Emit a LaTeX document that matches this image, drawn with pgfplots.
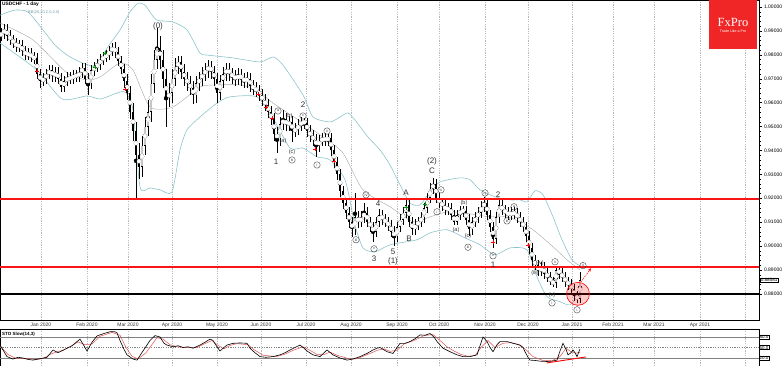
\documentclass[border=0pt]{standalone}
\usepackage{pgfplots}
\pgfplotsset{compat=1.18}
\usepackage{pgfplotstable}
\usepackage{fontspec}
\setmainfont{Liberation Sans}
\newfontfamily\seriffont{Liberation Serif}
\usetikzlibrary{arrows.meta}
\definecolor{bbteal}{RGB}{140,196,202}
\definecolor{fxred}{RGB}{240,38,38}
\definecolor{lvred}{RGB}{250,20,20}
\definecolor{lbl}{RGB}{50,50,50}
\definecolor{stored}{RGB}{225,80,80}
\pgfplotstableread{
x o h l c
1 0.9880 0.9912 0.9858 0.9890
4 0.9890 0.9927 0.9868 0.9905
7 0.9905 0.9927 0.9858 0.9880
10 0.9880 0.9902 0.9840 0.9862
13 0.9862 0.9884 0.9828 0.9850
16 0.9850 0.9872 0.9813 0.9835
19 0.9835 0.9862 0.9813 0.9840
22 0.9840 0.9862 0.9793 0.9815
25 0.9815 0.9837 0.9778 0.9800
28 0.9800 0.9827 0.9778 0.9805
31 0.9805 0.9827 0.9768 0.9790
34 0.9790 0.9812 0.9763 0.9785
37 0.9785 0.9807 0.9698 0.9720
40 0.9720 0.9742 0.9660 0.9690
43 0.9690 0.9722 0.9668 0.9700
46 0.9700 0.9742 0.9678 0.9720
49 0.9720 0.9757 0.9698 0.9735
52 0.9735 0.9757 0.9688 0.9710
55 0.9710 0.9747 0.9688 0.9725
58 0.9725 0.9747 0.9678 0.9700
61 0.9700 0.9722 0.9645 0.9665
64 0.9665 0.9712 0.9643 0.9690
67 0.9690 0.9727 0.9668 0.9705
70 0.9705 0.9727 0.9678 0.9700
73 0.9700 0.9737 0.9678 0.9715
76 0.9715 0.9737 0.9688 0.9710
79 0.9710 0.9747 0.9688 0.9725
82 0.9725 0.9767 0.9703 0.9745
85 0.9745 0.9767 0.9678 0.9700
88 0.9700 0.9722 0.9632 0.9680
91 0.9680 0.9757 0.9658 0.9735
94 0.9735 0.9772 0.9713 0.9750
97 0.9750 0.9782 0.9728 0.9760
100 0.9760 0.9802 0.9738 0.9780
103 0.9780 0.9812 0.9758 0.9790
106 0.9790 0.9822 0.9768 0.9800
109 0.9800 0.9837 0.9778 0.9815
112 0.9815 0.9849 0.9793 0.9830
115 0.9830 0.9852 0.9788 0.9810
118 0.9810 0.9832 0.9753 0.9775
121 0.9775 0.9797 0.9718 0.9740
124 0.9740 0.9762 0.9660 0.9690
127 0.9690 0.9720 0.9610 0.9640
130 0.9640 0.9670 0.9530 0.9560
133 0.9560 0.9600 0.9440 0.9480
136 0.9480 0.9520 0.9193 0.9380
139 0.9380 0.9430 0.9280 0.9330
142 0.9330 0.9460 0.9290 0.9420
145 0.9420 0.9540 0.9380 0.9500
148 0.9500 0.9610 0.9460 0.9560
151 0.9560 0.9720 0.9520 0.9680
154 0.9680 0.9820 0.9640 0.9780
157 0.9780 0.9912 0.9740 0.9830
160 0.9830 0.9880 0.9740 0.9780
163 0.9780 0.9820 0.9660 0.9700
166 0.9700 0.9740 0.9497 0.9620
169 0.9620 0.9680 0.9580 0.9640
172 0.9640 0.9740 0.9600 0.9700
175 0.9700 0.9785 0.9670 0.9750
178 0.9750 0.9795 0.9720 0.9770
181 0.9770 0.9795 0.9700 0.9730
184 0.9730 0.9760 0.9670 0.9700
187 0.9700 0.9730 0.9650 0.9680
190 0.9680 0.9710 0.9630 0.9660
193 0.9660 0.9690 0.9594 0.9630
196 0.9630 0.9710 0.9600 0.9680
199 0.9680 0.9730 0.9650 0.9700
202 0.9700 0.9750 0.9670 0.9720
205 0.9720 0.9765 0.9690 0.9735
208 0.9735 0.9780 0.9705 0.9750
211 0.9750 0.9775 0.9700 0.9730
214 0.9730 0.9755 0.9670 0.9700
217 0.9700 0.9725 0.9598 0.9640
220 0.9640 0.9715 0.9610 0.9690
223 0.9690 0.9750 0.9660 0.9720
226 0.9720 0.9765 0.9690 0.9740
229 0.9740 0.9765 0.9690 0.9720
232 0.9720 0.9745 0.9680 0.9710
235 0.9710 0.9735 0.9670 0.9700
238 0.9700 0.9745 0.9675 0.9715
241 0.9715 0.9740 0.9670 0.9700
244 0.9700 0.9725 0.9660 0.9690
247 0.9690 0.9730 0.9662 0.9700
250 0.9700 0.9725 0.9645 0.9670
253 0.9670 0.9695 0.9630 0.9660
256 0.9660 0.9685 0.9622 0.9650
259 0.9650 0.9675 0.9605 0.9630
262 0.9630 0.9655 0.9585 0.9610
265 0.9610 0.9635 0.9565 0.9590
268 0.9590 0.9615 0.9535 0.9560
271 0.9560 0.9585 0.9505 0.9530
274 0.9530 0.9555 0.9440 0.9470
277 0.9470 0.9500 0.9389 0.9450
280 0.9450 0.9540 0.9420 0.9510
283 0.9510 0.9569 0.9485 0.9530
286 0.9530 0.9555 0.9480 0.9505
289 0.9505 0.9545 0.9480 0.9520
292 0.9520 0.9545 0.9435 0.9480
295 0.9480 0.9515 0.9455 0.9490
298 0.9490 0.9530 0.9465 0.9505
301 0.9505 0.9540 0.9480 0.9520
304 0.9520 0.9535 0.9490 0.9515
307 0.9515 0.9535 0.9455 0.9480
310 0.9480 0.9505 0.9435 0.9460
313 0.9460 0.9485 0.9420 0.9445
316 0.9445 0.9470 0.9373 0.9420
319 0.9420 0.9465 0.9395 0.9440
322 0.9440 0.9472 0.9418 0.9450
325 0.9450 0.9472 0.9420 0.9445
328 0.9445 0.9470 0.9420 0.9450
331 0.9450 0.9472 0.9375 0.9400
334 0.9400 0.9422 0.9325 0.9350
337 0.9350 0.9372 0.9275 0.9300
340 0.9300 0.9322 0.9205 0.9230
343 0.9230 0.9252 0.9155 0.9180
346 0.9180 0.9202 0.9115 0.9140
349 0.9140 0.9162 0.9075 0.9100
352 0.9100 0.9122 0.9038 0.9070
355 0.9070 0.9222 0.9048 0.9120
358 0.9120 0.9145 0.9075 0.9100
361 0.9100 0.9145 0.9078 0.9120
364 0.9120 0.9180 0.9098 0.9140
367 0.9140 0.9162 0.9078 0.9100
370 0.9100 0.9122 0.9058 0.9080
373 0.9080 0.9102 0.9017 0.9060
376 0.9060 0.9122 0.9038 0.9100
379 0.9100 0.9155 0.9078 0.9130
382 0.9130 0.9152 0.9088 0.9110
385 0.9110 0.9132 0.9078 0.9100
388 0.9100 0.9122 0.9063 0.9085
391 0.9085 0.9107 0.9038 0.9060
394 0.9060 0.9082 0.9000 0.9040
397 0.9040 0.9102 0.9018 0.9080
400 0.9080 0.9132 0.9058 0.9110
403 0.9110 0.9162 0.9088 0.9140
406 0.9140 0.9193 0.9118 0.9170
409 0.9170 0.9192 0.9078 0.9100
412 0.9100 0.9122 0.9047 0.9070
415 0.9070 0.9112 0.9048 0.9090
418 0.9090 0.9122 0.9068 0.9100
421 0.9100 0.9142 0.9078 0.9120
424 0.9120 0.9182 0.9098 0.9160
427 0.9160 0.9222 0.9138 0.9200
430 0.9200 0.9262 0.9178 0.9240
433 0.9240 0.9285 0.9218 0.9260
436 0.9260 0.9282 0.9178 0.9200
439 0.9200 0.9222 0.9158 0.9180
442 0.9180 0.9202 0.9148 0.9170
445 0.9170 0.9192 0.9128 0.9150
448 0.9150 0.9182 0.9128 0.9160
451 0.9160 0.9182 0.9108 0.9130
454 0.9130 0.9152 0.9088 0.9100
457 0.9100 0.9152 0.9088 0.9130
460 0.9130 0.9168 0.9108 0.9150
463 0.9150 0.9168 0.9123 0.9145
466 0.9145 0.9167 0.9088 0.9110
469 0.9110 0.9132 0.9042 0.9070
472 0.9070 0.9122 0.9048 0.9100
475 0.9100 0.9142 0.9078 0.9120
478 0.9120 0.9162 0.9098 0.9140
481 0.9140 0.9187 0.9118 0.9165
484 0.9165 0.9205 0.9143 0.9180
487 0.9180 0.9202 0.9108 0.9130
490 0.9130 0.9152 0.9058 0.9080
493 0.9080 0.9102 0.8990 0.9030
496 0.9030 0.9142 0.9008 0.9120
499 0.9120 0.9193 0.9098 0.9170
502 0.9170 0.9192 0.9128 0.9150
505 0.9150 0.9172 0.9118 0.9140
508 0.9140 0.9162 0.9108 0.9130
511 0.9130 0.9162 0.9108 0.9140
514 0.9140 0.9162 0.9113 0.9135
517 0.9135 0.9157 0.9098 0.9120
520 0.9120 0.9142 0.9078 0.9100
523 0.9100 0.9122 0.9058 0.9080
526 0.9080 0.9102 0.9018 0.9040
529 0.9040 0.9062 0.8968 0.8990
532 0.8990 0.9012 0.8918 0.8940
535 0.8940 0.8962 0.8898 0.8920
538 0.8920 0.8942 0.8873 0.8895
541 0.8895 0.8932 0.8873 0.8910
544 0.8910 0.8932 0.8863 0.8885
547 0.8885 0.8907 0.8848 0.8870
550 0.8870 0.8892 0.8835 0.8850
553 0.8850 0.8872 0.8829 0.8845
556 0.8845 0.8913 0.8823 0.8900
559 0.8900 0.8913 0.8863 0.8885
562 0.8885 0.8907 0.8848 0.8870
565 0.8870 0.8892 0.8828 0.8850
568 0.8850 0.8872 0.8818 0.8840
571 0.8840 0.8862 0.8798 0.8820
574 0.8820 0.8842 0.8768 0.8790
577 0.8790 0.8812 0.8762 0.8780
580 0.8780 0.8892 0.8760 0.8858
}\candles
\tikzset{
 big/.style={font=\fontsize{8}{8}\selectfont, text=lbl, inner sep=0pt},
 sm/.style={font=\fontsize{5.5}{5.5}\selectfont, text=lbl, inner sep=0pt},
 cir/.style={circle, draw=lbl, line width=0.35pt, inner sep=0pt, minimum size=6.5pt, font=\fontsize{3.6}{3.6}\selectfont, text=lbl},
}
\begin{document}
\begin{tikzpicture}[x=1pt,y=1pt]
\useasboundingbox (0pt,0pt) rectangle (782pt,-366pt);
\begin{axis}[at={(0pt,0pt)}, anchor=north west, width=759pt, height=320pt, scale only axis,
  xmin=0, xmax=759, ymin=0.86904, ymax=1.00293, clip mode=individual,
  axis line style={black, line width=0.5pt},
  xtick={41,87,128,172,217,261,306,351,397,439,485,528,572,613,654,700,745},
  xticklabels={Jan 2020,Feb 2020,Mar 2020,Apr 2020,May 2020,Jun 2020,Jul 2020,Aug 2020,Sep 2020,Oct 2020,Nov 2020,Dec 2020,Jan 2021,Feb 2021,Mar 2021,Apr 2021,{}},
  xtick style={draw=none},
  xticklabel style={font=\fontsize{5}{5}\selectfont, anchor=center, yshift=-2pt, text=black!80},
  xmajorgrids, grid style={gray!55, dash pattern=on 1.2pt off 1.2pt, line width=0.35pt},
  ytick={0.88,0.89,0.90,0.91,0.92,0.93,0.94,0.95,0.96,0.97,0.98,0.99,1.00},
  minor y tick num=4, tick align=outside, major tick length=3pt, minor tick length=1.5pt,
  ytick pos=right, yticklabel pos=right, scaled y ticks=false,
  ytick style={black, line width=0.3pt},
  yticklabel style={font=\fontsize{5}{5}\selectfont, xshift=-1.5pt, /pgf/number format/.cd, fixed, fixed zerofill, precision=5, assume math mode=true},
]
% Bollinger bands
\addplot[bbteal, line width=0.6pt, smooth, tension=0.4] coordinates {(0,0.9966)(15,0.9987)(28,0.9979)(43,0.9904)(55,0.9841)(67,0.9799)(80,0.9770)(93,0.9753)(100,0.9778)(107,0.9828)(120,0.9904)(130,0.9979)(138,1.0016)(145,1.0008)(150,0.9979)(157,0.9945)(173,0.9937)(187,0.9904)(200,0.9807)(207,0.9799)(233,0.9787)(260,0.9770)(273,0.9791)(283,0.9757)(303,0.9632)(313,0.9540)(330,0.9519)(340,0.9540)(348,0.9557)(355,0.9527)(368,0.9456)(380,0.9402)(390,0.9339)(400,0.9256)(410,0.9180)(420,0.9172)(430,0.9226)(440,0.9268)(460,0.9285)(470,0.9277)(480,0.9235)(495,0.9206)(510,0.9193)(520,0.9193)(527,0.9185)(535,0.9231)(543,0.9214)(553,0.9122)(562,0.9026)(572,0.8942)(580,0.8917)(586,0.8909)};
\addplot[gray!70, line width=0.4pt, smooth, tension=0.4] coordinates {(0,0.9933)(33,0.9862)(67,0.9724)(87,0.9695)(100,0.9707)(120,0.9766)(133,0.9736)(150,0.9582)(173,0.9582)(200,0.9665)(217,0.9674)(240,0.9674)(257,0.9653)(273,0.9598)(303,0.9515)(323,0.9456)(343,0.9389)(363,0.9235)(390,0.9164)(413,0.9101)(430,0.9122)(447,0.9143)(463,0.9139)(490,0.9122)(507,0.9122)(520,0.9101)(533,0.9068)(553,0.8997)(567,0.8942)(580,0.8900)};
\addplot[bbteal, line width=0.6pt, smooth, tension=0.4] coordinates {(0,0.9849)(10,0.9820)(37,0.9736)(62,0.9615)(87,0.9628)(100,0.9615)(117,0.9640)(125,0.9644)(133,0.9569)(140,0.9247)(150,0.9243)(160,0.9235)(172,0.9226)(180,0.9402)(187,0.9486)(200,0.9540)(217,0.9598)(230,0.9624)(257,0.9624)(273,0.9536)(290,0.9410)(303,0.9410)(317,0.9373)(330,0.9360)(345,0.9277)(355,0.9088)(363,0.8992)(375,0.8976)(390,0.9005)(417,0.9026)(430,0.9055)(447,0.9068)(465,0.9034)(480,0.9005)(495,0.8963)(510,0.8992)(527,0.8984)(537,0.8871)(547,0.8788)(560,0.8767)(570,0.8754)(580,0.8804)};
% candles: wicks
\addplot[only marks, mark=none, black, forget plot,
  error bars/.cd, y dir=both, y explicit, error mark=none,
  error bar style={line width=0.5pt, black}]
  table[x=x, y expr={(\thisrow{h}+\thisrow{l})/2}, y error expr={(\thisrow{h}-\thisrow{l})/2}] {\candles};
% bodies
\addplot[only marks, mark=none, black, forget plot,
  error bars/.cd, y dir=both, y explicit, error mark=none,
  error bar style={line width=2.4pt, black}]
  table[x=x, y expr={(\thisrow{o}+\thisrow{c})/2}, y error expr={max(abs(\thisrow{o}-\thisrow{c})/2,0.00015)}] {\candles};
% bull body interior
\addplot[only marks, mark=none, white, forget plot,
  error bars/.cd, y dir=both, y explicit, error mark=none,
  error bar style={line width=1.1pt, gray!45}]
  table[x=x, y expr={(\thisrow{o}+\thisrow{c})/2}, y error expr={max((\thisrow{c}-\thisrow{o})/2-0.0003,0)}] {\candles};
% signal markers
\addplot[only marks, mark=+, mark size=1.8pt, red, line width=0.6pt] coordinates {(37,0.9732)(125,0.9657)(258,0.9636)(266,0.9582)(272,0.9535)(315,0.9406)(334,0.9356)(493,0.9017)(528,0.9005)};
\addplot[only marks, mark=+, mark size=1.8pt, green!60!black, line width=0.6pt] coordinates {(95,0.9749)(105,0.9807)(406,0.9160)(425,0.9176)};
% levels
\addplot[lvred, line width=1.5pt] coordinates {(0,0.9196)(759,0.9196)};
\addplot[lvred, line width=1.5pt] coordinates {(0,0.8912)(759,0.8912)};
\addplot[black, line width=1.5pt] coordinates {(0,0.8800)(759,0.8800)};
% circle and arrow
\draw[red, line width=0.6pt, fill=red, fill opacity=0.2] (axis cs:578,0.8800) circle[radius=11.5pt];
\draw[red, line width=0.6pt, dash pattern=on 1pt off 1pt, -{Stealth[length=3.5pt,width=3pt]}] (axis cs:581,0.8850) -- (axis cs:591,0.8907);
% wave labels
\node[big] at (axis cs:158,0.9920) {(0)};
\node[big] at (axis cs:303,0.9590) {2};
\node[big] at (axis cs:276,0.9352) {1};
\node[big] at (axis cs:378,0.9176) {4};
\node[big] at (axis cs:374,0.8946) {3};
\node[big] at (axis cs:393,0.8976) {5};
\node[big] at (axis cs:393,0.8934) {(1)};
\node[big] at (axis cs:406,0.9222) {A};
\node[big] at (axis cs:409,0.9030) {B};
\node[big] at (axis cs:432,0.9352) {(2)};
\node[big] at (axis cs:432,0.9314) {C};
\node[big] at (axis cs:498,0.9214) {2};
\node[big] at (axis cs:493,0.8921) {1};
\node[sm] at (axis cs:289,0.9544) {(b)};
\node[sm] at (axis cs:283,0.9440) {(a)};
\node[sm] at (axis cs:292,0.9394) {(c)};
\node[sm] at (axis cs:456,0.9068) {(a)};
\node[sm] at (axis cs:464,0.9180) {(b)};
\node[sm] at (axis cs:468,0.9040) {(c)};
\node[sm] at (axis cs:540,0.8930) {(iv)};
\node[sm] at (axis cs:535,0.8888) {(iii)};
\node[sm] at (axis cs:552,0.8796) {(v)};
\node[cir] at (axis cs:278,0.9565) {a};
\node[cir] at (axis cs:303,0.9544) {c};
\node[cir] at (axis cs:292,0.9360) {b};
\node[cir] at (axis cs:327,0.9481) {ii};
\node[cir] at (axis cs:317,0.9339) {i};
\node[cir] at (axis cs:366,0.9214) {iv};
\node[cir] at (axis cs:356,0.9026) {iii};
\node[cir] at (axis cs:374,0.8988) {v};
\node[cir] at (axis cs:441,0.9235) {ii};
\node[cir] at (axis cs:437,0.9143) {i};
\node[cir] at (axis cs:468,0.8995) {iii};
\node[cir] at (axis cs:485,0.9222) {iv};
\node[cir] at (axis cs:493,0.8959) {v};
\node[cir] at (axis cs:514,0.9164) {a};
\node[cir] at (axis cs:507,0.9105) {b};
\node[cir] at (axis cs:555,0.8934) {ii};
\node[cir] at (axis cs:583,0.8918) {ii};
\node[cir] at (axis cs:552,0.8762) {i};
\node[cir] at (axis cs:577,0.8733) {i};
% top-left texts
\node[anchor=north west, font=\bfseries\fontsize{4.8}{5}\selectfont, inner sep=0pt] at (rel axis cs:0,1) [xshift=2pt, yshift=-2pt] {USDCHF - 1 day};
\node[anchor=north west, font=\fontsize{4}{4}\selectfont, text=bbteal!80!black, inner sep=0pt] at (rel axis cs:0,1) [xshift=28pt, yshift=-10pt] {BB(20,20,2.0,2.0)};
% current price
\node[draw=black, fill=white, inner sep=0.6pt, line width=0.3pt, anchor=west, font=\fontsize{4.6}{4.6}\selectfont] at (axis cs:759,0.88581) [xshift=1pt] {0.88581};
\end{axis}
% sub panel
\begin{axis}[at={(0pt,-329pt)}, anchor=north west, width=759pt, height=37pt, scale only axis,
  xmin=0, xmax=759, ymin=-2.86, ymax=102.86, clip mode=individual,
  axis line style={black, line width=0.5pt},
  xtick={41,87,128,172,217,261,306,351,397,439,485,528,572,613,654,700,745},
  xticklabels={}, xtick style={draw=none},
  xmajorgrids, grid style={gray!55, dash pattern=on 1.2pt off 1.2pt, line width=0.35pt},
  ytick={20,50,80}, ytick style={draw=none}, yticklabel pos=right,
  yticklabel style={font=\fontsize{4.5}{4.5}\selectfont, draw=black, fill=white, inner sep=0.5pt, line width=0.3pt, /pgf/number format/.cd, fixed, fixed zerofill, precision=1, assume math mode=true},
]
\addplot[gray, line width=0.5pt] coordinates {(0,80)(759,80)};
\addplot[gray, line width=0.4pt, dash pattern=on 1.2pt off 1.2pt] coordinates {(0,50)(759,50)};
\addplot[gray, line width=0.5pt] coordinates {(0,20)(759,20)};
\addplot[stored, line width=0.5pt] coordinates {(0,55)(8,30)(15,20)(25,19)(35,16)(43,18)(50,30)(57,38)(63,42)(70,52)(78,66)(85,58)(92,60)(100,82)(112,93)(120,85)(126,50)(132,25)(138,17)(146,35)(157,78)(163,74)(170,58)(177,52)(187,50)(197,50)(204,60)(212,70)(217,58)(224,46)(230,56)(237,61)(248,58)(254,44)(263,28)(276,24)(284,30)(294,43)(303,52)(310,42)(317,30)(324,30)(330,37)(337,28)(350,17)(357,18)(364,26)(371,34)(377,42)(384,46)(390,39)(397,42)(404,60)(414,70)(424,84)(433,87)(440,70)(447,52)(454,40)(461,30)(468,25)(475,27)(481,50)(488,70)(495,50)(503,62)(511,64)(518,59)(525,46)(533,24)(543,13)(552,12)(560,24)(566,48)(571,38)(576,34)(580,36)};
\addplot[black, line width=0.6pt] coordinates {(0,57)(7,24)(13,17)(18,22)(23,20)(28,16)(33,14)(40,18)(47,22)(53,43)(58,35)(63,42)(67,48)(72,55)(75,62)(80,74)(84,55)(87,40)(92,65)(97,83)(104,90)(110,95)(115,95)(117,92)(120,70)(124,45)(127,29)(133,17)(137,14)(143,40)(150,70)(155,84)(160,80)(164,62)(167,57)(173,52)(178,55)(183,50)(188,52)(193,48)(200,57)(205,65)(210,74)(213,70)(217,52)(220,40)(224,50)(227,57)(233,62)(240,63)(247,62)(250,48)(255,35)(260,24)(266,22)(273,24)(280,29)(285,35)(290,43)(295,50)(300,57)(304,48)(307,40)(313,29)(320,24)(327,43)(333,29)(340,20)(347,14)(353,17)(360,24)(367,33)(373,43)(377,48)(380,50)(387,38)(393,33)(400,62)(405,62)(410,67)(415,75)(420,86)(425,85)(430,90)(434,80)(437,67)(443,48)(450,38)(457,29)(463,24)(470,24)(477,29)(480,55)(483,80)(487,67)(490,50)(493,38)(497,58)(500,67)(507,67)(513,62)(520,57)(523,50)(525,38)(528,22)(530,14)(535,13)(540,11)(547,10)(552,11)(557,14)(560,40)(563,62)(566,45)(568,29)(571,35)(573,43)(575,35)(577,24)(580,46)};
\addplot[red, line width=0.9pt] coordinates {(547,6)(586,23)};
\node[anchor=north west, font=\bfseries\fontsize{4.5}{4.5}\selectfont, inner sep=0pt] at (rel axis cs:0,1) [xshift=2pt, yshift=-3pt] {STO Slow(14,3)};
\end{axis}
% logo
\fill[fxred] (709pt,0pt) rectangle (757pt,-49pt);
\node[text=white, font=\seriffont\fontsize{12.5}{12.5}\selectfont, inner sep=0pt] at (733pt,-22pt) {FxPro};
\node[text=white, font=\fontsize{3.6}{3.6}\selectfont, inner sep=0pt] at (733pt,-31pt) {Trade Like a Pro};
\end{tikzpicture}
\end{document}
